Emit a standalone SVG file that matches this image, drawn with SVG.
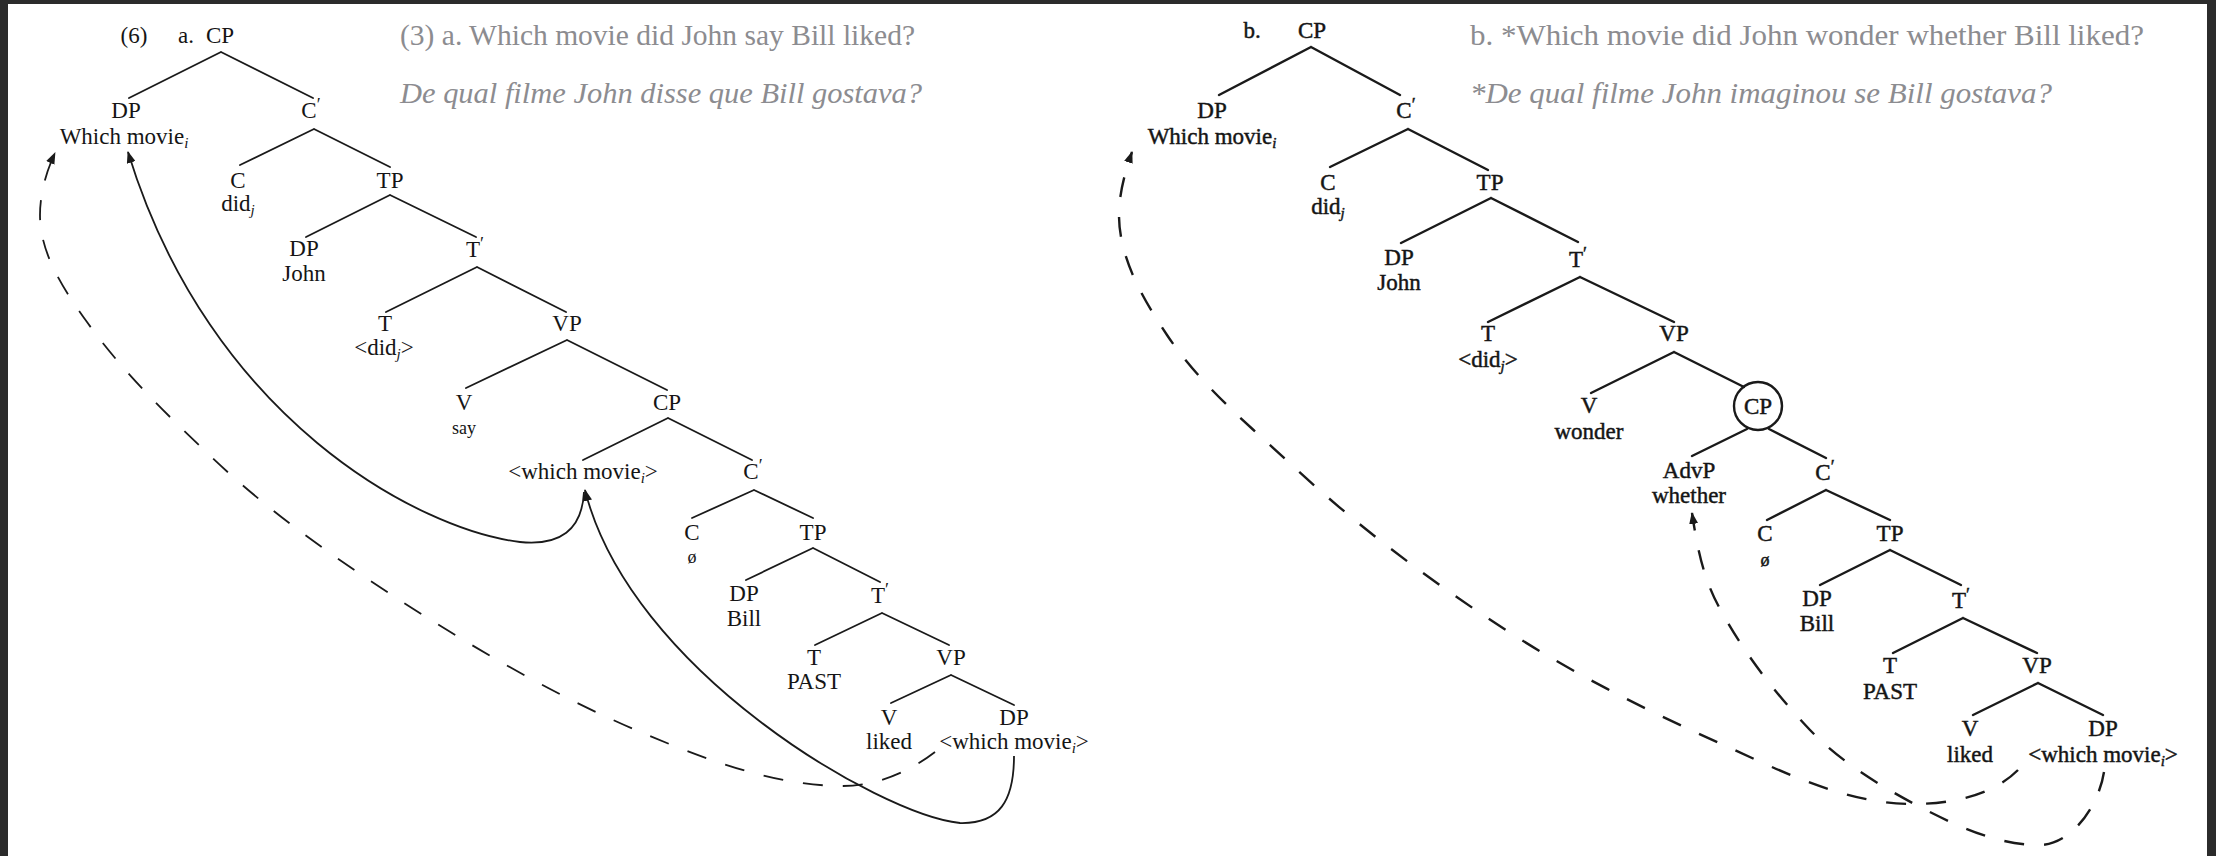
<svg xmlns="http://www.w3.org/2000/svg" width="2216" height="856" viewBox="0 0 2216 856">
<defs>
<style>
.t{font-family:"Liberation Serif","Times New Roman",serif;font-size:23px;fill:#151515;text-anchor:middle}
.rt{stroke:#151515;stroke-width:0.45}
.sm{font-size:18px}
.sub{font-size:15px;font-style:italic}
.pr{font-size:18px}
.g{font-family:"Liberation Serif","Times New Roman",serif;font-size:30px;fill:#8c8c90}
.gi{font-style:italic}
.e{stroke:#1a1a1a;stroke-width:1.8;fill:none;stroke-linecap:round}
.er{stroke:#1a1a1a;stroke-width:2.4;fill:none;stroke-linecap:round}
.mv{stroke:#1a1a1a;stroke-width:1.8;fill:none}
.mvr{stroke:#1a1a1a;stroke-width:2.4;fill:none}
.d{stroke-dasharray:20 20}
</style>
<marker id="ah" viewBox="0 0 12 9" refX="11" refY="4.5" markerWidth="12" markerHeight="9" markerUnits="userSpaceOnUse" orient="auto">
<path d="M0,0 L12,4.5 L0,9 z" fill="#1a1a1a"/>
</marker>
</defs>
<rect x="0" y="0" width="2216" height="856" fill="#2b2b2b"/>
<rect x="8" y="4" width="2199" height="852" fill="#ffffff"/>

<g id="captions">
<text class="g" x="400" y="45" textLength="515" lengthAdjust="spacingAndGlyphs">(3) a. Which movie did John say Bill liked?</text>
<text class="g gi" x="400" y="103" textLength="522" lengthAdjust="spacingAndGlyphs">De qual filme John disse que Bill gostava?</text>
<text class="g" x="1470" y="45" textLength="674" lengthAdjust="spacingAndGlyphs">b. *Which movie did John wonder whether Bill liked?</text>
<text class="g gi" x="1470" y="103" textLength="582" lengthAdjust="spacingAndGlyphs">*De qual filme John imaginou se Bill gostava?</text>
</g>

<g id="connectors">
<!-- left tree edges -->
<path class="e" d="M221,52 L129,98 M221,52 L313,98"/>
<path class="e" d="M314,129 L240,165 M314,129 L390,167"/>
<path class="e" d="M390,195 L306,237 M390,195 L476,237"/>
<path class="e" d="M477,267 L386,312 M477,267 L566,312"/>
<path class="e" d="M567,340 L466,388 M567,340 L667,390"/>
<path class="e" d="M668,418 L583,460 M668,418 L752,460"/>
<path class="e" d="M754,490 L692,518 M754,490 L813,518"/>
<path class="e" d="M813,548 L746,580 M813,548 L880,582"/>
<path class="e" d="M882,613 L815,645 M882,613 L949,645"/>
<path class="e" d="M951,675 L891,703 M951,675 L1014,705"/>
<!-- left movement arrows -->
<path class="mv" d="M584,492 C582,530 560,546 520,542 C420,530 210,420 128,152" marker-end="url(#ah)"/>
<path class="mv" d="M1014,756 C1014,800 1000,824 960,823 C880,815 630,670 585,490" marker-end="url(#ah)"/>
<path class="mv d" d="M935,752 C909,772 876,786 843,786 C773,786 702,758 638,731 C556,696 479,651 404,603 C333,557 262,507 201,447 C161,409 119,367 87,322 C64,290 40,254 40,215 C40,194 46,172 55,153" marker-end="url(#ah)"/>
<!-- right tree edges -->
<path class="er" d="M1311,47 L1219,95 M1311,47 L1400,95"/>
<path class="er" d="M1408,129 L1330,167 M1408,129 L1488,170"/>
<path class="er" d="M1491,198 L1401,243 M1491,198 L1578,242"/>
<path class="er" d="M1580,277 L1488,322 M1580,277 L1674,322"/>
<path class="er" d="M1674,352 L1591,393 M1674,352 L1744,387"/>
<path class="er" d="M1747,429 L1692,456 M1769,429 L1826,458"/>
<path class="er" d="M1826,490 L1767,520 M1826,490 L1890,520"/>
<path class="er" d="M1890,550 L1820,585 M1890,550 L1961,585"/>
<path class="er" d="M1963,618 L1893,653 M1963,618 L2037,653"/>
<path class="er" d="M2038,683 L1973,715 M2038,683 L2103,715"/>
<!-- right movement arrows -->
<path class="mvr d" d="M2018,770 C1992,796 1950,804 1913,804 C1848,804 1787,774 1728,747 C1652,713 1579,677 1509,632 C1433,583 1361,529 1295,468 C1250,426 1201,386 1167,335 C1143,299 1119,258 1119,215 C1119,194 1125,172 1132,152" marker-end="url(#ah)"/>
<path class="mvr d" d="M2104,772 C2099,805 2072,845 2039,845 C1997,845 1957,826 1920,807 C1880,786 1841,762 1810,730 C1775,693 1743,652 1719,607 C1703,578 1697,546 1692,513" marker-end="url(#ah)"/>
</g>

<g id="left-tree">
<g id="L-label"><text class="t" x="134" y="43">(6)</text><text class="t" x="186" y="43">a.</text></g>
<g id="L-CP"><text class="t" x="220" y="43">CP</text></g>
<g id="L-DP"><text class="t" x="126" y="118">DP</text><text class="t" x="124" y="144">Which movie<tspan class="sub" dy="4">i</tspan></text></g>
<g id="L-C1"><text class="t" x="311" y="118">C<tspan class="pr" dy="-7">′</tspan></text></g>
<g id="L-C"><text class="t" x="238" y="188">C</text><text class="t" x="238" y="211">did<tspan class="sub" dy="4">j</tspan></text></g>
<g id="L-TP"><text class="t" x="390" y="188">TP</text></g>
<g id="L-DP2"><text class="t" x="304" y="256">DP</text><text class="t" x="304" y="281">John</text></g>
<g id="L-T1"><text class="t" x="475" y="257">T<tspan class="pr" dy="-7">′</tspan></text></g>
<g id="L-T"><text class="t" x="385" y="331">T</text><text class="t" x="384" y="355">&lt;did<tspan class="sub" dy="4">j</tspan><tspan dy="-4">&gt;</tspan></text></g>
<g id="L-VP"><text class="t" x="567" y="331">VP</text></g>
<g id="L-V"><text class="t" x="464" y="410">V</text><text class="t sm" x="464" y="434">say</text></g>
<g id="L-CP2"><text class="t" x="667" y="410">CP</text></g>
<g id="L-WH"><text class="t" x="583" y="479">&lt;which movie<tspan class="sub" dy="4">i</tspan><tspan dy="-4">&gt;</tspan></text></g>
<g id="L-C2"><text class="t" x="753" y="479">C<tspan class="pr" dy="-7">′</tspan></text></g>
<g id="L-C3"><text class="t" x="692" y="540">C</text><text class="t sm" x="692" y="563">ø</text></g>
<g id="L-TP2"><text class="t" x="813" y="540">TP</text></g>
<g id="L-DP3"><text class="t" x="744" y="601">DP</text><text class="t" x="744" y="626">Bill</text></g>
<g id="L-T2"><text class="t" x="880" y="603">T<tspan class="pr" dy="-7">′</tspan></text></g>
<g id="L-T3"><text class="t" x="814" y="665">T</text><text class="t" x="814" y="689">PAST</text></g>
<g id="L-VP2"><text class="t" x="951" y="665">VP</text></g>
<g id="L-V2"><text class="t" x="889" y="725">V</text><text class="t" x="889" y="749">liked</text></g>
<g id="L-DP4"><text class="t" x="1014" y="725">DP</text><text class="t" x="1014" y="749">&lt;which movie<tspan class="sub" dy="4">i</tspan><tspan dy="-4">&gt;</tspan></text></g>
</g>

<g id="right-tree">
<g id="R-label"><text class="t rt" x="1252" y="38">b.</text></g>
<g id="R-CP"><text class="t rt" x="1312" y="38">CP</text></g>
<g id="R-DP"><text class="t rt" x="1212" y="118">DP</text><text class="t rt" x="1212" y="144">Which movie<tspan class="sub" dy="4">i</tspan></text></g>
<g id="R-C1"><text class="t rt" x="1406" y="118">C<tspan class="pr" dy="-7">′</tspan></text></g>
<g id="R-C"><text class="t rt" x="1328" y="190">C</text><text class="t rt" x="1328" y="214">did<tspan class="sub" dy="4">j</tspan></text></g>
<g id="R-TP"><text class="t rt" x="1490" y="190">TP</text></g>
<g id="R-DP2"><text class="t rt" x="1399" y="265">DP</text><text class="t rt" x="1399" y="290">John</text></g>
<g id="R-T1"><text class="t rt" x="1578" y="267">T<tspan class="pr" dy="-7">′</tspan></text></g>
<g id="R-T"><text class="t rt" x="1488" y="341">T</text><text class="t rt" x="1488" y="367">&lt;did<tspan class="sub" dy="4">j</tspan><tspan dy="-4">&gt;</tspan></text></g>
<g id="R-VP"><text class="t rt" x="1674" y="341">VP</text></g>
<g id="R-V"><text class="t rt" x="1589" y="413">V</text><text class="t rt" x="1589" y="439">wonder</text></g>
<g id="R-CP2"><ellipse cx="1758" cy="406" rx="24" ry="24" fill="none" stroke="#1a1a1a" stroke-width="2.4"/><text class="t rt" x="1758" y="414">CP</text></g>
<g id="R-AdvP"><text class="t rt" x="1689" y="478">AdvP</text><text class="t rt" x="1689" y="503">whether</text></g>
<g id="R-C2"><text class="t rt" x="1825" y="480">C<tspan class="pr" dy="-7">′</tspan></text></g>
<g id="R-C3"><text class="t rt" x="1765" y="541">C</text><text class="t rt sm" x="1765" y="566">ø</text></g>
<g id="R-TP2"><text class="t rt" x="1890" y="541">TP</text></g>
<g id="R-DP3"><text class="t rt" x="1817" y="606">DP</text><text class="t rt" x="1817" y="631">Bill</text></g>
<g id="R-T2"><text class="t rt" x="1961" y="608">T<tspan class="pr" dy="-7">′</tspan></text></g>
<g id="R-T3"><text class="t rt" x="1890" y="673">T</text><text class="t rt" x="1890" y="699">PAST</text></g>
<g id="R-VP2"><text class="t rt" x="2037" y="673">VP</text></g>
<g id="R-V2"><text class="t rt" x="1970" y="736">V</text><text class="t rt" x="1970" y="762">liked</text></g>
<g id="R-DP4"><text class="t rt" x="2103" y="736">DP</text><text class="t rt" x="2103" y="762">&lt;which movie<tspan class="sub" dy="4">i</tspan><tspan dy="-4">&gt;</tspan></text></g>
</g>
</svg>
